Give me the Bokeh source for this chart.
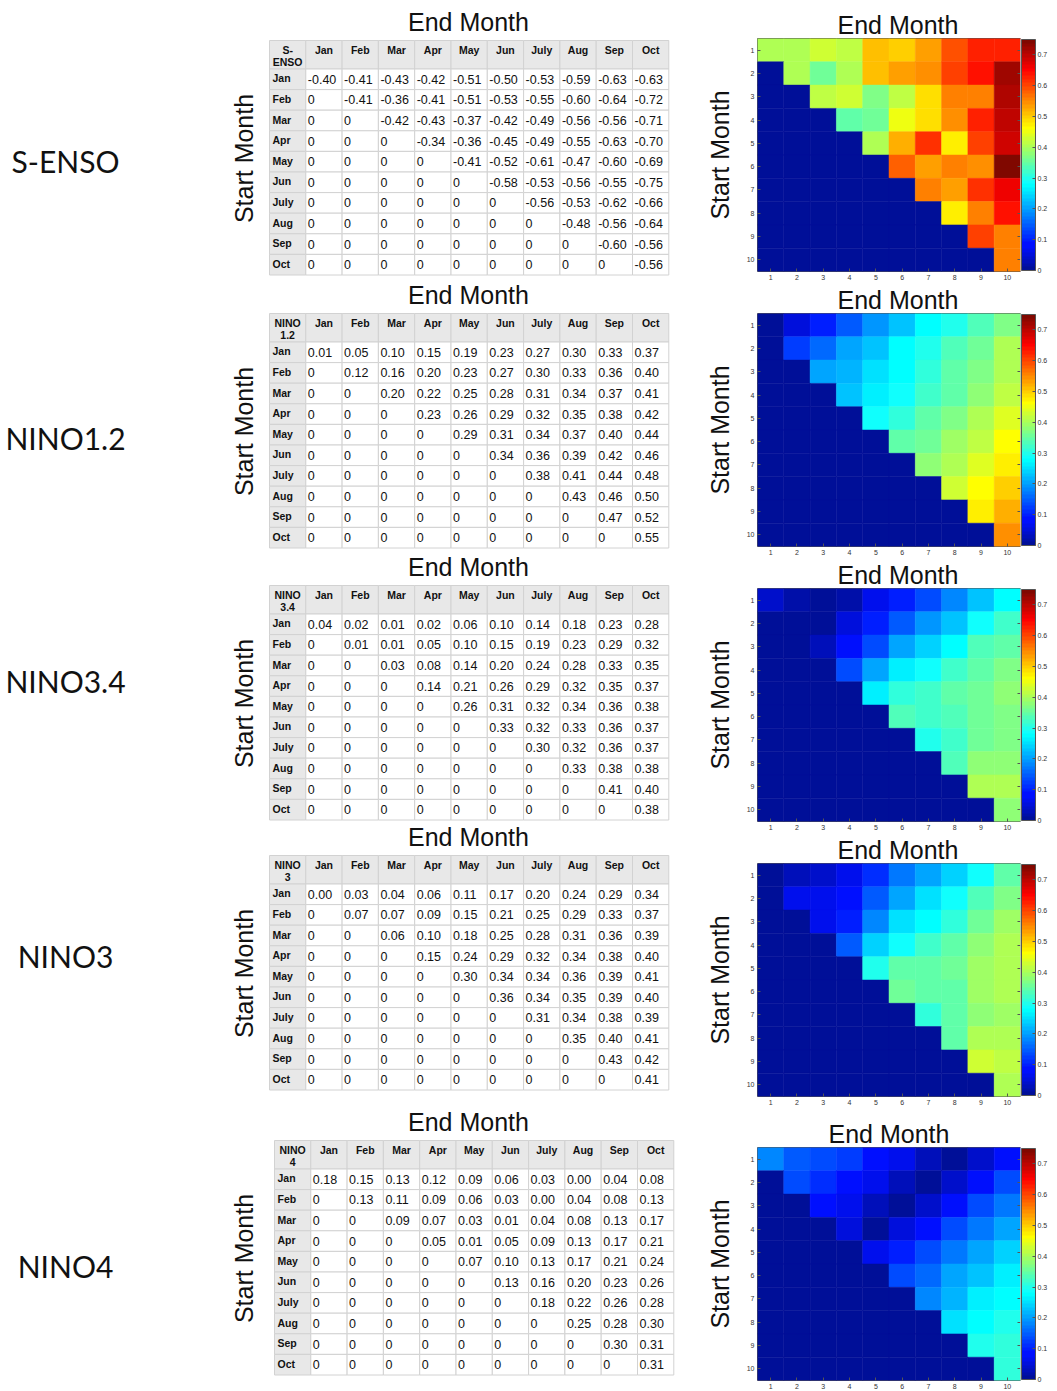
import math
from bokeh.plotting import figure
from bokeh.models import (Range1d, ColumnDataSource, LinearColorMapper, ColorBar,
                          FixedTicker, LinearAxis)
from bokeh.layouts import row, column
from bokeh.embed import file_html
from bokeh.resources import INLINE
from bokeh.core.properties import value

# ---------------- data ----------------
months = ["Jan", "Feb", "Mar", "Apr", "May", "Jun", "July", "Aug", "Sep", "Oct"]
index_names = ["S-ENSO", "NINO1.2", "NINO3.4", "NINO3", "NINO4"]
corner_labels = ["S-\nENSO", "NINO\n1.2", "NINO\n3.4", "NINO\n3", "NINO\n4"]
heat_ticks = [1, 2, 3, 4, 5, 6, 7, 8, 9, 10]
cbar_ticks = [0, 0.1, 0.2, 0.3, 0.4, 0.5, 0.6, 0.7]

# upper-triangular rows: row r starts at column r (start month -> end month)
s_enso = [
    [-0.40, -0.41, -0.43, -0.42, -0.51, -0.50, -0.53, -0.59, -0.63, -0.63],
    [-0.41, -0.36, -0.41, -0.51, -0.53, -0.55, -0.60, -0.64, -0.72],
    [-0.42, -0.43, -0.37, -0.42, -0.49, -0.56, -0.56, -0.71],
    [-0.34, -0.36, -0.45, -0.49, -0.55, -0.63, -0.70],
    [-0.41, -0.52, -0.61, -0.47, -0.60, -0.69],
    [-0.58, -0.53, -0.56, -0.55, -0.75],
    [-0.56, -0.53, -0.62, -0.66],
    [-0.48, -0.56, -0.64],
    [-0.60, -0.56],
    [-0.56],
]
nino12 = [
    [0.01, 0.05, 0.10, 0.15, 0.19, 0.23, 0.27, 0.30, 0.33, 0.37],
    [0.12, 0.16, 0.20, 0.23, 0.27, 0.30, 0.33, 0.36, 0.40],
    [0.20, 0.22, 0.25, 0.28, 0.31, 0.34, 0.37, 0.41],
    [0.23, 0.26, 0.29, 0.32, 0.35, 0.38, 0.42],
    [0.29, 0.31, 0.34, 0.37, 0.40, 0.44],
    [0.34, 0.36, 0.39, 0.42, 0.46],
    [0.38, 0.41, 0.44, 0.48],
    [0.43, 0.46, 0.50],
    [0.47, 0.52],
    [0.55],
]
nino34 = [
    [0.04, 0.02, 0.01, 0.02, 0.06, 0.10, 0.14, 0.18, 0.23, 0.28],
    [0.01, 0.01, 0.05, 0.10, 0.15, 0.19, 0.23, 0.29, 0.32],
    [0.03, 0.08, 0.14, 0.20, 0.24, 0.28, 0.33, 0.35],
    [0.14, 0.21, 0.26, 0.29, 0.32, 0.35, 0.37],
    [0.26, 0.31, 0.32, 0.34, 0.36, 0.38],
    [0.33, 0.32, 0.33, 0.36, 0.37],
    [0.30, 0.32, 0.36, 0.37],
    [0.33, 0.38, 0.38],
    [0.41, 0.40],
    [0.38],
]
nino3 = [
    [0.00, 0.03, 0.04, 0.06, 0.11, 0.17, 0.20, 0.24, 0.29, 0.34],
    [0.07, 0.07, 0.09, 0.15, 0.21, 0.25, 0.29, 0.33, 0.37],
    [0.06, 0.10, 0.18, 0.25, 0.28, 0.31, 0.36, 0.39],
    [0.15, 0.24, 0.29, 0.32, 0.34, 0.38, 0.40],
    [0.30, 0.34, 0.34, 0.36, 0.39, 0.41],
    [0.36, 0.34, 0.35, 0.39, 0.40],
    [0.31, 0.34, 0.38, 0.39],
    [0.35, 0.40, 0.41],
    [0.43, 0.42],
    [0.41],
]
nino4 = [
    [0.18, 0.15, 0.13, 0.12, 0.09, 0.06, 0.03, 0.00, 0.04, 0.08],
    [0.13, 0.11, 0.09, 0.06, 0.03, 0.00, 0.04, 0.08, 0.13],
    [0.09, 0.07, 0.03, 0.01, 0.04, 0.08, 0.13, 0.17],
    [0.05, 0.01, 0.05, 0.09, 0.13, 0.17, 0.21],
    [0.07, 0.10, 0.13, 0.17, 0.21, 0.24],
    [0.13, 0.16, 0.20, 0.23, 0.26],
    [0.18, 0.22, 0.26, 0.28],
    [0.25, 0.28, 0.30],
    [0.30, 0.31],
    [0.31],
]
tables = [s_enso, nino12, nino34, nino3, nino4]


def full_matrix(rows):
    m = [[0.0] * 10 for _ in range(10)]
    for r, vals in enumerate(rows):
        for k, v in enumerate(vals):
            m[r][r + k] = v
    return m


def matlab_jet(m):
    # MATLAB's jet(m) colormap
    n = math.ceil(m / 4)
    u = [i / n for i in range(1, n + 1)] + [1.0] * (n - 1) + [i / n for i in range(n, 0, -1)]
    shift = math.ceil(n / 2) - (1 if m % 4 == 1 else 0)
    g = [shift + k for k in range(1, len(u) + 1)]
    r = [gi + n for gi in g]
    b = [gi - n for gi in g]
    J = [[0.0, 0.0, 0.0] for _ in range(m)]
    for k, uk in enumerate(u):
        if r[k] <= m:
            J[r[k] - 1][0] = uk
        if g[k] <= m:
            J[g[k] - 1][1] = uk
        if b[k] >= 1:
            J[b[k] - 1][2] = uk
    # slight lift of the dark end, as in the rendered reference
    out = []
    for rgb in J:
        rr, gg, bb = rgb
        gg = gg + 0.06 * (1 - gg) * (1 - rr)
        out.append("#%02x%02x%02x" % (int(round(rr * 255)), int(round(gg * 255)),
                                       int(round(min(1.0, bb * 1.06) * 255))))
    return out


JET = matlab_jet(64)
FONT = "Liberation Sans"

# ---------------- left panel: labels + tables ----------------
W_LEFT, H = 690, 1391
left = figure(width=W_LEFT, height=H, x_range=Range1d(0, W_LEFT), y_range=Range1d(H, 0),
              output_backend="svg", toolbar_location=None, min_border=0,
              x_axis_location=None, y_axis_location=None)
left.grid.visible = False
left.outline_line_color = None

table_x = [269, 269, 269, 269, 274]
table_y = [40, 313, 585, 855, 1140]
label_y = [160, 437, 680, 955, 1265]
cw, hh, rh = 36.3, 28.5, 20.6

rx, ry, rw, rhh, rc = [], [], [], [], []
hx, hy, ht = [], [], []
lx, ly, lt = [], [], []
vx, vy, vt = [], [], []
tx, ty = [], []
sx, sy = [], []
for t, rows in enumerate(tables):
    m = full_matrix(rows)
    x0, y0 = table_x[t], table_y[t]
    for c in range(11):
        rx.append(x0 + (c + 0.5) * cw); ry.append(y0 + hh / 2)
        rw.append(cw); rhh.append(hh); rc.append("#e8e8e8")
        hx.append(x0 + (c + 0.5) * cw); hy.append(y0 + 3)
        ht.append(corner_labels[t] if c == 0 else months[c - 1])
    for r in range(10):
        yc = y0 + hh + (r + 0.5) * rh
        for c in range(11):
            rx.append(x0 + (c + 0.5) * cw); ry.append(yc)
            rw.append(cw); rhh.append(rh); rc.append("#e8e8e8" if c == 0 else "#ffffff")
        lx.append(x0 + 3); ly.append(yc - 1); lt.append(months[r])
        for c in range(10):
            vx.append(x0 + (c + 1) * cw + 2); vy.append(yc)
            vt.append("0" if c < r else "%.2f" % m[r][c])
    tx.append(468); ty.append(y0 - 19)
    sx.append(243); sy.append(y0 + 118)

left.rect(x=rx, y=ry, width=rw, height=rhh, fill_color=rc, line_color="#d2d2d2", line_width=1)
left.text(x=hx, y=hy, text=ht, text_align="center", text_baseline="top",
          text_font=value(FONT), text_font_style="bold", text_font_size="10.5px",
          text_color="#111111", text_line_height=1.05)
left.text(x=lx, y=ly, text=lt, text_align="left", text_baseline="middle",
          text_font=value(FONT), text_font_style="bold", text_font_size="10.5px",
          text_color="#111111")
left.text(x=vx, y=vy, text=vt, text_align="left", text_baseline="middle",
          text_font=value(FONT), text_font_size="12.5px", text_color="#111111")
left.text(x=tx, y=ty, text=["End Month"] * 5, text_align="center", text_baseline="middle",
          text_font=value(FONT), text_font_size="25px", text_color="#111111")
left.text(x=sx, y=sy, text=["Start Month"] * 5, angle=math.pi / 2, text_align="center",
          text_baseline="middle", text_font=value(FONT), text_font_size="25px",
          text_color="#111111")
left.text(x=[65] * 5, y=label_y, text=index_names, text_align="center", text_baseline="middle",
          text_font=value("Lato"), text_font_size="30px", text_color="#111111")

# ---------------- right panel: heat maps ----------------
mapper = LinearColorMapper(palette=JET, low=0, high=0.75)
top_border = [38, 31, 31, 31, 40]
title_offset = [80, 80, 80, 80, 71]
frame_h = 234
bottom_border = 10


def style_axis(ax, show_labels):
    ax.ticker = FixedTicker(ticks=heat_ticks)
    ax.major_label_text_font_size = "7px"
    ax.major_label_text_color = "#333333"
    ax.major_label_text_alpha = 1.0 if show_labels else 0.0
    ax.major_tick_in = 3
    ax.major_tick_out = 0
    ax.minor_tick_line_color = None
    ax.major_tick_line_color = "#555555"
    ax.axis_line_color = None
    ax.major_label_standoff = 3


heats = []
for t, rows in enumerate(tables):
    m = full_matrix(rows)
    xs, ys, vs = [], [], []
    for r in range(10):
        for c in range(10):
            xs.append(c + 1); ys.append(r + 1); vs.append(abs(m[r][c]))
    src = ColumnDataSource(dict(x=xs, y=ys, v=vs))
    p = figure(width=367, height=top_border[t] + frame_h + bottom_border,
               x_range=Range1d(0.5, 10.5), y_range=Range1d(10.5, 0.5),
               output_backend="svg", toolbar_location=None,
               min_border_left=67, min_border_right=37,
               min_border_top=top_border[t], min_border_bottom=bottom_border,
               title="End Month")
    p.title.text_font = FONT
    p.title.text_font_size = "25px"
    p.title.text_font_style = "normal"
    p.title.text_color = "#111111"
    p.title.align = "left"
    p.title.standoff = 0
    p.title.offset = title_offset[t]
    p.rect(x="x", y="y", width=1, height=1, source=src,
           fill_color={"field": "v", "transform": mapper},
           line_color={"field": "v", "transform": mapper}, line_width=0.5)
    p.grid.visible = False
    p.outline_line_color = "#555555"
    ax_bottom = p.below[0]
    ax_left = p.left[0]
    style_axis(ax_bottom, True)
    style_axis(ax_left, True)
    # box ticks on the right edge (labels hidden; also spaces the colour bar)
    ax_right = LinearAxis()
    style_axis(ax_right, False)
    ax_right.major_label_standoff = 3
    p.add_layout(ax_right, "right")
    ax_left.axis_label = "Start Month"
    ax_left.axis_label_text_font = FONT
    ax_left.axis_label_text_font_size = "25px"
    ax_left.axis_label_text_font_style = "normal"
    ax_left.axis_label_text_color = "#111111"
    ax_left.axis_label_standoff = 10
    cb = ColorBar(color_mapper=mapper, ticker=FixedTicker(ticks=cbar_ticks),
                  width=14, margin=0, padding=1, label_standoff=2,
                  major_label_text_font_size="7px", major_label_text_color="#333333",
                  major_label_overrides={0: "0"},
                  major_tick_in=3, major_tick_out=0, major_tick_line_color="#555555",
                  bar_line_color="#555555", border_line_color=None)
    p.add_layout(cb, "right")
    heats.append(p)

layout = row(left, column(*heats, spacing=0), spacing=0)
open("out.html", "w").write(file_html(layout, INLINE))
